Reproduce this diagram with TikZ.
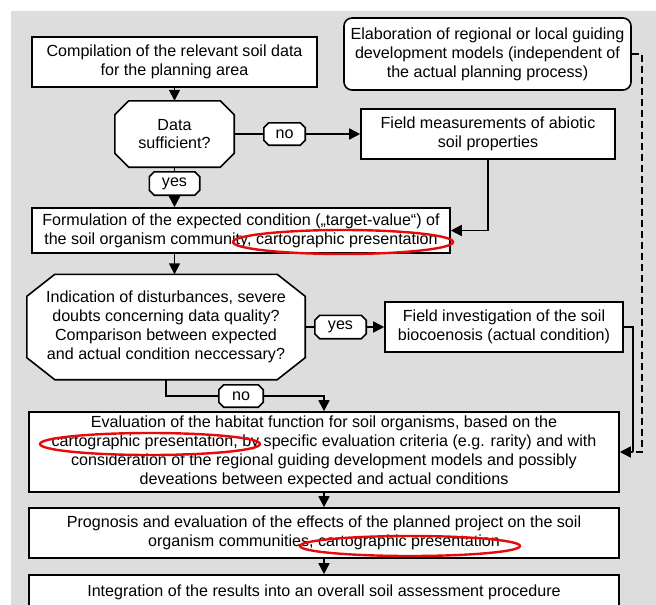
\documentclass[tikz,border=0pt]{standalone}
\usepackage{fontspec}
\setmainfont{Liberation Sans}
\usetikzlibrary{arrows.meta,backgrounds}
\definecolor{bggrey}{RGB}{221,221,221}
\definecolor{ringred}{RGB}{232,10,10}
\newcommand\octframe[3]{%
	\draw[line width=1.6pt,fill=white] ([xshift=#2]#1.north west) -- ([xshift=-#2]#1.north east)
		-- ([yshift=-#3]#1.north east) -- ([yshift=#3]#1.south east)
		-- ([xshift=-#2]#1.south east) -- ([xshift=#2]#1.south west)
		-- ([yshift=#3]#1.south west) -- ([yshift=-#3]#1.north west) -- cycle;}
\begin{document}
\begin{tikzpicture}[x=1pt,y=-1pt,
		txt/.style={inner sep=0pt,align=center,font=\fontsize{16.1}{18.9}\selectfont},
		box/.style={txt,draw,line width=1.6pt,fill=white},
		link/.style={line width=1.6pt},
		arr/.style={link,-{Triangle[length=11pt,width=11pt]}},
		redring/.style={draw=ringred,line width=2.4pt}]
		\useasboundingbox (0,0) rectangle (656,605);
		\node[box,minimum width=285,minimum height=50] (comp) at (174.5,62) {Compilation of the relevant soil data\\for the planning area};
		\node[box,rounded corners=8pt,minimum width=287,minimum height=72] (elab) at (487.5,54) {Elaboration of regional or local guiding\\development models (independent of\\the actual planning process)};
		\node[txt,minimum width=119,minimum height=66] (datasuff) at (174.5,134) {Data\\sufficient?};
		\node[txt,minimum width=41,minimum height=22] (no1) at (284.5,134) {no};
		\node[box,minimum width=254,minimum height=50] (field) at (488,134) {Field measurements of abiotic\\soil properties};
		\node[txt,minimum width=50,minimum height=23] (yes1) at (174.5,183.5) {yes};
		\node[box,minimum width=418,minimum height=45] (form) at (241,230.5) {Formulation of the expected condition („target-value“) of\\the soil organism community, cartographic presentation};
		\node[txt,minimum width=278,minimum height=105] (distq) at (166,327) {Indication of disturbances, severe\\doubts concerning data quality?\\Comparison between expected\\and actual condition neccessary?};
		\node[txt,minimum width=51,minimum height=23] (yes2) at (340.5,327) {yes};
		\node[box,minimum width=238,minimum height=50] (invest) at (504,327) {Field investigation of the soil\\biocoenosis (actual condition)};
		\node[txt,minimum width=44,minimum height=22] (no2) at (241,396) {no};
		\node[box,minimum width=590,minimum height=80] (eval) at (324,452) {Evaluation of the habitat function for soil organisms, based on the\\cartographic presentation, by specific evaluation criteria (e.g. rarity) and with\\consideration of the regional guiding development models and possibly\\deveations between expected and actual conditions};
		\node[box,minimum width=590,minimum height=50] (prog) at (324,533) {Prognosis and evaluation of the effects of the planned project on the soil\\organism communities, cartographic presentation};
		\begin{scope}
			\clip (0,0) rectangle (656,605);
			\node[box,minimum width=590,minimum height=34] (integ) at (324,592) {Integration of the results into an overall soil assessment procedure};
		\end{scope}
		\coordinate (jn) at (633,452);
		\coordinate (jd) at (642,452);
		\draw[arr] (comp.south) -- (datasuff.north);
		\draw[link] (datasuff.east) -- (no1.west);
		\draw[arr] (no1.east) -- (field.west);
		\draw[link] (datasuff.south) -- (yes1.north);
		\draw[arr] (yes1.south) -- (form.north -| yes1);
		\draw[arr] (field.south) |- (form.east);
		\draw[arr] (form.south -| comp) -- (distq.north -| comp);
		\draw[link] (distq.east) -- (yes2.west);
		\draw[arr] (yes2.east) -- (invest.west);
		\draw[link] (distq.south) |- (no2.west);
		\draw[arr] (no2.east) -| (eval.north);
		\draw[link] (invest.east) -| (jn);
		\draw[link,dash pattern=on 7pt off 4pt] (elab.east) -| (jd) -- (jn);
		\draw[arr] (jn) -- (eval.east);
		\draw[arr] (eval.south) -- (prog.north);
		\draw[arr] (prog.south) -- (integ.north);
		\draw[redring] (343,242) ellipse [x radius=110pt,y radius=12pt];
		\draw[redring] (150,444) ellipse [x radius=110pt,y radius=11pt];
		\draw[redring] (410,546) ellipse [x radius=110pt,y radius=10pt];
		\begin{scope}[on background layer]
			\fill[bggrey] (11,11) rectangle (656,605);
			\octframe{datasuff}{14}{14}
			\octframe{no1}{5}{5}
			\octframe{yes1}{5}{5}
			\octframe{distq}{28}{22}
			\octframe{yes2}{5}{5}
			\octframe{no2}{5}{5}
		\end{scope}
	\end{tikzpicture}
\end{document}
